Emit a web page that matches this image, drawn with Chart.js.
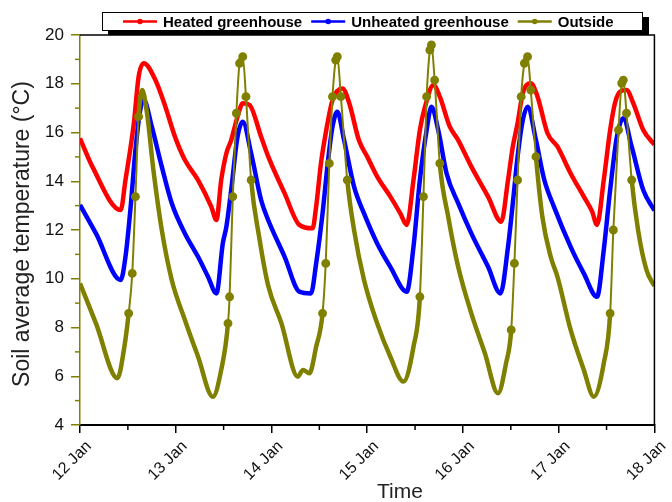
<!DOCTYPE html>
<html>
<head>
<meta charset="utf-8">
<script src="https://cdn.jsdelivr.net/npm/chart.js@4.4.1/dist/chart.umd.min.js"></script>
<style>
  html, body { margin: 0; padding: 0; background: #fff; }
  #wrap { width: 672px; height: 502px; }
</style>
</head>
<body>
<div id="wrap"><canvas id="myChart" width="672" height="502"></canvas></div>
<script>
// hours since 12 Jan 00:00
const heatedTime = [0,3.1,10.2,11.4,13.5,14.7,16.0,18.9,21.4,23.8,26.3,29.6,32.9,34.2,35.4,36.7,37.9,39.5,40.8,42.5,45.4,47.2,51.3,55.0,58.3,59.2,60.4,61.6,63.3,65.8,67.5,69.9,72.0,74.5,77.8,80.3,81.9,83.6,85.2,86.5,88.6,90.2,92.7,94.8,98.1,102.3,105.6,107.3,108.5,109.7,111.0,113.0,114.7,117.2,119.7,123.0,126.3,128.4,129.6,131.3,132.9,134.1,135.4,137.0,138.7,141.2,144];
const heatedTemp = [15.76,14.6,12.82,14.05,16.38,18.29,18.84,18.15,17.06,15.83,14.87,14.05,12.96,12.41,14.05,15.15,15.69,16.65,17.2,17.13,15.83,15.01,13.5,12.21,12.07,12.96,14.73,15.97,17.33,17.81,17.2,15.69,15.01,14.19,13.37,12.68,12.21,14.05,16.1,17.06,17.95,17.47,16.24,15.69,14.6,13.37,12.34,14.05,15.42,16.38,17.61,18.02,17.47,15.97,15.42,14.32,13.37,12.75,12.21,14.05,16.1,17.2,17.68,17.74,17.2,16.1,15.5];

const unheatedTime = [0,4.0,10.2,11.4,12.7,13.9,15.1,16.0,18.0,20.5,23.0,26.3,29.6,32.1,34.2,35.8,36.7,37.9,39.5,40.8,42.9,45.4,47.2,51.3,55.0,57.9,59.2,60.8,62.1,63.3,64.5,66.2,68.7,71.2,74.5,77.8,81.9,83.6,85.2,86.9,88.1,89.8,91.9,94.8,98.1,102.3,105.4,107.3,108.5,109.7,111.0,112.2,114.3,116.4,118.8,123.0,126.3,129.6,131.3,132.9,134.6,136.2,138.3,141.2,144];
const unheatedTemp = [13.03,11.86,9.95,10.9,12.96,15.28,16.92,17.33,16.24,14.6,13.1,11.86,10.9,10.08,9.4,11.45,12.14,13.64,15.83,16.44,15.15,13.23,12.4,10.9,9.47,9.4,10.63,12.68,14.73,16.24,16.85,15.69,13.78,12.68,11.45,10.49,9.47,11.31,14.05,16.1,17.06,16.1,14.32,13.1,11.86,10.49,9.4,11.31,13.1,15.01,16.51,17.06,15.69,14.05,12.96,11.31,10.22,9.26,11.18,13.64,15.83,16.58,15.42,13.64,12.8];

const outsideTime = [0,4.0,9.4,11.0,12.2,13.1,13.9,14.7,15.6,16.8,18.4,20.5,23.0,26.3,29.6,33.3,35.4,37.1,37.5,38.3,39.2,40.0,40.8,41.6,42.9,44.9,47.2,50.5,54.6,55.9,57.5,59.2,60.8,61.6,62.5,63.3,64.1,64.5,65.4,67.0,68.7,71.2,74.5,77.8,81.1,83.6,85.2,86.1,86.9,87.7,88.1,88.9,90.2,92.3,94.8,98.1,101.5,104.8,106.8,108.1,108.9,109.7,110.6,111.4,112.2,113.0,114.3,115.9,118.0,119.7,123.0,126.3,128.8,131.3,132.9,133.7,135.0,135.8,136.2,137.0,138.3,139.9,142.0,144];
const outsideTemp = [9.81,8.17,5.92,7.08,8.58,10.22,13.37,16.65,17.74,16.79,14.46,12.0,9.95,8.31,6.8,5.16,6.26,8.17,9.26,13.37,16.79,18.84,19.11,17.47,14.05,11.73,9.7,8.17,5.98,6.26,6.12,7.21,8.58,10.63,14.73,17.47,18.97,19.11,17.47,14.05,12.0,9.95,8.17,6.8,5.78,7.21,9.26,13.37,17.47,19.38,19.59,18.15,14.73,12.55,10.49,8.58,6.94,5.3,6.53,7.9,10.63,14.05,17.47,18.84,19.11,17.74,15.01,12.55,10.9,10.08,7.9,6.26,5.16,6.53,8.58,12.0,16.1,18.02,18.15,16.79,14.05,12.0,10.36,9.7];

const seriesNames = ['Heated greenhouse', 'Unheated greenhouse', 'Outside'];
const seriesColors = ['#ff0000', '#0000ff', '#808000'];
const dayLabels = ['12 Jan','13 Jan','14 Jan','15 Jan','16 Jan','17 Jan','18 Jan'];

function toPoints(t, v) {
    return t.map((x, i) => ({x: x, y: v[i]}));
}

function slopeAt(t, v, i) {
    const j = i < t.length - 1 ? i + 1 : i - 1;
    return Math.abs((v[j] - v[i]) / (t[j] - t[i]));
}

// outside curve: thin line with dots where it climbs/falls fast
function outsideWidth(ctx) {
    const a = ctx.p0.parsed, b = ctx.p1.parsed;
    return Math.abs((b.y - a.y) / (b.x - a.x)) > 1.6 ? 2 : 4.5;
}
function outsideDot(ctx) {
    const i = ctx.dataIndex;
    const s = Math.max(slopeAt(outsideTime, outsideTemp, i), i > 0 ? slopeAt(outsideTime, outsideTemp, i - 1) : 0);
    return s > 1.6 ? 2.2 : 0;
}

const framePlugin = {
    id: 'frame',
    afterDraw(chart) {
        const ctx = chart.ctx;
        const a = chart.chartArea;
        const xs = chart.scales.x, ys = chart.scales.y;
        ctx.save();
        // top + right border
        ctx.strokeStyle = '#000';
        ctx.lineWidth = 1.5;
        ctx.beginPath();
        ctx.moveTo(a.left, a.top);
        ctx.lineTo(a.right, a.top);
        ctx.lineTo(a.right, a.bottom);
        ctx.stroke();

        // minor ticks y
        ctx.strokeStyle = '#808000';
        ctx.lineWidth = 1.5;
        for (let v = 5; v < 20; v += 2) {
            const py = ys.getPixelForValue(v);
            ctx.beginPath();
            ctx.moveTo(a.left - 5, py);
            ctx.lineTo(a.left, py);
            ctx.stroke();
        }
        // minor ticks x
        ctx.strokeStyle = '#000';
        for (let h = 12; h < 144; h += 24) {
            const px = xs.getPixelForValue(h);
            ctx.beginPath();
            ctx.moveTo(px, a.bottom);
            ctx.lineTo(px, a.bottom + 5);
            ctx.stroke();
        }

        // axis titles
        ctx.fillStyle = '#222';
        ctx.font = '21px "Liberation Sans", Arial, sans-serif';
        ctx.textAlign = 'center';
        ctx.textBaseline = 'middle';
        ctx.fillText('Time', 400, 492);
        ctx.save();
        ctx.translate(23, 234);
        ctx.rotate(-Math.PI / 2);
        ctx.font = '23px "Liberation Sans", Arial, sans-serif';
        ctx.fillText('Soil average temperature (°C)', 0, 0);
        ctx.restore();

        // legend box with shadow
        ctx.fillStyle = '#000';
        ctx.fillRect(108, 17, 541, 18);
        ctx.fillStyle = '#fff';
        ctx.fillRect(102, 12, 541, 19);
        ctx.strokeStyle = '#000';
        ctx.lineWidth = 1;
        ctx.strokeRect(102.5, 12.5, 540, 18);

        ctx.font = 'bold 15px "Liberation Sans", Arial, sans-serif';
        ctx.textAlign = 'left';
        let x = 123;
        const y = 21.5;
        seriesNames.forEach((name, i) => {
            ctx.strokeStyle = seriesColors[i];
            ctx.lineWidth = 2.5;
            ctx.beginPath();
            ctx.moveTo(x, y);
            ctx.lineTo(x + 34, y);
            ctx.stroke();
            ctx.fillStyle = seriesColors[i];
            ctx.beginPath();
            ctx.arc(x + 17, y, 2.8, 0, Math.PI * 2);
            ctx.fill();
            ctx.fillStyle = '#000';
            ctx.fillText(name, x + 40, y + 1);
            x += 40 + ctx.measureText(name).width + 9;
        });
        ctx.restore();
    }
};

const ctx = document.querySelector('#myChart').getContext('2d');
const myChart = new Chart(ctx, {
    type: 'line',
    data: {
        datasets: [{
            label: seriesNames[0],
            data: toPoints(heatedTime, heatedTemp),
            borderColor: seriesColors[0],
            backgroundColor: seriesColors[0],
            borderWidth: 4.5,
            pointRadius: 0,
            cubicInterpolationMode: 'monotone',
            order: 3
        },{
            label: seriesNames[1],
            data: toPoints(unheatedTime, unheatedTemp),
            borderColor: seriesColors[1],
            backgroundColor: seriesColors[1],
            borderWidth: 4.5,
            pointRadius: 0,
            cubicInterpolationMode: 'monotone',
            order: 2
        },{
            label: seriesNames[2],
            data: toPoints(outsideTime, outsideTemp),
            borderColor: seriesColors[2],
            backgroundColor: seriesColors[2],
            borderWidth: 4.5,
            segment: { borderWidth: outsideWidth },
            pointRadius: outsideDot,
            cubicInterpolationMode: 'monotone',
            order: 1
        }]
    },
    options: {
        responsive: false,
        animation: false,
        layout: { padding: { top: 35, right: 12, left: 0, bottom: 0 } },
        plugins: { legend: { display: false }, tooltip: { enabled: false } },
        scales: {
            x: {
                type: 'linear',
                min: 0,
                max: 144,
                afterFit: s => { s.height = 77; },
                ticks: {
                    stepSize: 24,
                    maxRotation: 45,
                    minRotation: 45,
                    padding: 4,
                    labelOffset: 9,
                    color: '#111',
                    font: { size: 16, family: '"Liberation Sans", Arial, sans-serif' },
                    callback: v => dayLabels[v / 24]
                },
                grid: { drawOnChartArea: false, tickLength: 8, color: '#000', lineWidth: 1.5 },
                border: { color: '#000', width: 2 }
            },
            y: {
                min: 4,
                max: 20,
                afterFit: s => { s.width = 80; },
                ticks: {
                    stepSize: 2,
                    padding: 7,
                    color: '#111',
                    font: { size: 17, family: '"Liberation Sans", Arial, sans-serif' }
                },
                grid: { drawOnChartArea: false, tickLength: 9, color: '#808000', lineWidth: 1.5 },
                border: { color: '#808000', width: 1.5 }
            }
        }
    },
    plugins: [framePlugin]
});
</script>
</body>
</html>
